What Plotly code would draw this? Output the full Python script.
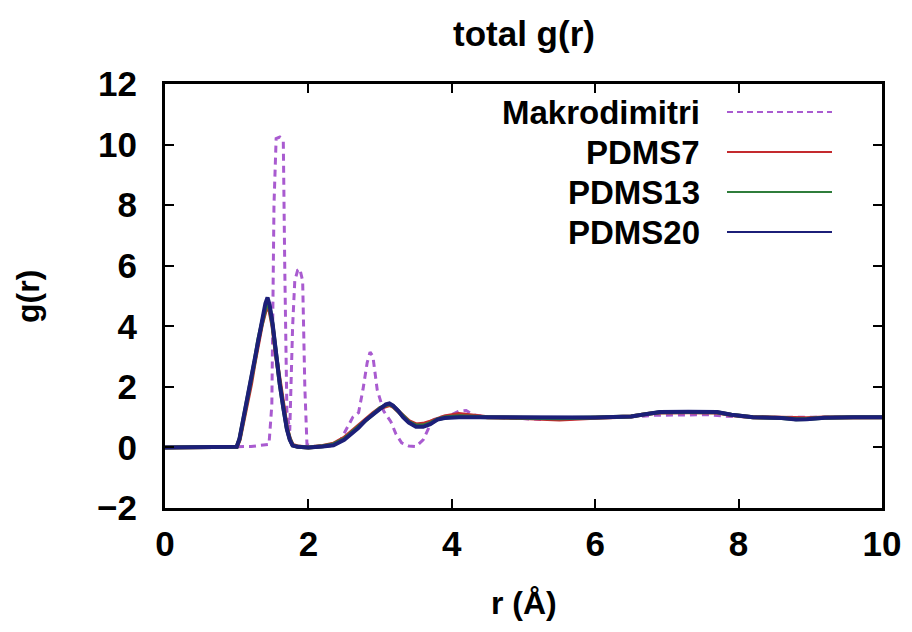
import plotly.graph_objects as go

# ---------------- data ----------------
mk_r = [0.0, 0.5, 1.0, 1.2, 1.45, 1.49, 1.52, 1.55, 1.6, 1.65, 1.67, 1.7, 1.74, 1.78, 1.81,
        1.85, 1.88, 1.92, 1.95, 1.98, 2.1, 2.3, 2.45, 2.55, 2.62, 2.7, 2.76, 2.82, 2.86, 2.9,
        2.96, 3.05, 3.15, 3.22, 3.3, 3.4, 3.5, 3.6, 3.68, 3.75, 3.85, 4.0, 4.1, 4.2, 4.3,
        4.5, 4.8, 5.0, 5.3, 5.6, 5.8, 6.2, 6.6, 6.8, 7.2, 7.6, 7.8, 8.2, 8.6, 9.0, 9.5, 10.0]
mk_g = [0.0, 0.01, 0.02, 0.03, 0.1, 1.4, 8.0, 10.2, 10.25, 10.1, 6.0, 1.2, 0.55, 4.0, 5.5,
        5.85, 5.9, 5.5, 2.0, 0.1, 0.03, 0.05, 0.25, 0.7, 1.0, 1.15, 1.9, 2.8, 3.15, 3.0,
        1.9, 1.2, 0.85, 0.45, 0.15, 0.05, 0.03, 0.25, 0.65, 0.92, 1.0, 1.08, 1.2, 1.22, 1.08,
        1.0, 0.97, 0.93, 0.92, 0.93, 0.97, 1.0, 1.02, 1.06, 1.08, 1.08, 1.03, 1.0, 0.99, 1.0, 1.0, 1.0]

pd_r = [0.0, 0.5, 1.0, 1.04, 1.08, 1.12, 1.16, 1.2, 1.25, 1.3, 1.35, 1.4, 1.43, 1.46, 1.5,
        1.55, 1.6, 1.65, 1.7, 1.74, 1.78, 1.85, 2.0, 2.2, 2.35, 2.5, 2.6, 2.7, 2.8, 2.9,
        3.0, 3.08, 3.13, 3.18, 3.25, 3.32, 3.4, 3.5, 3.6, 3.7, 3.8, 3.9, 4.1, 4.5, 5.0,
        5.5, 6.0, 6.5, 6.7, 6.9, 7.3, 7.7, 7.9, 8.2, 8.6, 8.8, 8.95, 9.2, 9.6, 10.0]
pdms7_g = [0.0, 0.0, 0.02, 0.25, 0.7, 1.2, 1.6, 2.1, 2.8, 3.5, 4.05, 4.5, 4.65, 4.5, 4.0,
           3.0, 2.15, 1.35, 0.65, 0.3, 0.08, 0.03, 0.0, 0.05, 0.12, 0.32, 0.52, 0.72, 0.95, 1.13,
           1.3, 1.38, 1.4, 1.35, 1.2, 1.02, 0.87, 0.76, 0.78, 0.85, 0.95, 1.02, 1.1, 1.0, 0.97,
           0.92, 0.98, 1.02, 1.1, 1.15, 1.16, 1.15, 1.07, 1.0, 0.98, 0.95, 0.96, 0.99, 1.0, 1.0]
pdms13_g = [0.0, 0.0, 0.02, 0.28, 0.75, 1.25, 1.65, 2.15, 2.85, 3.55, 4.1, 4.6, 4.8, 4.6, 4.05,
            3.0, 2.1, 1.32, 0.62, 0.28, 0.07, 0.02, 0.0, 0.04, 0.1, 0.28, 0.48, 0.68, 0.92, 1.12,
            1.3, 1.4, 1.43, 1.37, 1.21, 1.01, 0.84, 0.72, 0.72, 0.8, 0.93, 0.99, 1.03, 1.0, 0.98,
            0.96, 0.99, 1.02, 1.1, 1.16, 1.17, 1.16, 1.08, 1.0, 0.97, 0.93, 0.94, 0.98, 1.0, 1.0]
pdms20_g = [0.0, 0.0, 0.02, 0.3, 0.8, 1.3, 1.7, 2.2, 2.9, 3.6, 4.2, 4.75, 4.95, 4.7, 4.1,
            3.0, 2.1, 1.3, 0.6, 0.25, 0.06, 0.02, 0.0, 0.03, 0.07, 0.25, 0.45, 0.65, 0.9, 1.1,
            1.3, 1.42, 1.45, 1.38, 1.22, 1.0, 0.82, 0.68, 0.68, 0.77, 0.92, 0.97, 1.0, 1.0, 0.98,
            0.98, 0.99, 1.02, 1.1, 1.17, 1.18, 1.17, 1.08, 1.0, 0.97, 0.92, 0.93, 0.98, 1.0, 1.0]

series_names = ["Makrodimitri", "PDMS7", "PDMS13", "PDMS20"]
series_colors = ["#a95bd0", "#c42a2e", "#2f7d3b", "#1c1f78"]
x_ticks = [0, 2, 4, 6, 8, 10]
y_ticks = [-2, 0, 2, 4, 6, 8, 10, 12]

FONT = "Liberation Sans"

# figure sits inside the page body's 8px margin
W, H = 904, 624
L, R, T, B = 157, 30, 76, 124
PW, PH = W - L - R, H - T - B


def px_x(x):  # page x pixel -> paper coordinate
    return (x - 8 - L) / PW


def px_y(y):  # page y pixel -> paper coordinate
    return (H - B - (y - 8)) / PH


fig = go.Figure()
fig.add_trace(go.Scatter(x=mk_r, y=mk_g, mode="lines", name=series_names[0],
                         line=dict(color=series_colors[0], width=3, dash="7px,5px")))
for name, col, g in zip(series_names[1:], series_colors[1:], [pdms7_g, pdms13_g, pdms20_g]):
    fig.add_trace(go.Scatter(x=pd_r, y=g, mode="lines", name=name,
                             line=dict(color=col, width=4)))

# gnuplot-style key: text right-aligned, sample line to the right
ann = []
shapes = []
key_rows = [112, 152, 192, 232]
for i, (name, col) in enumerate(zip(series_names, series_colors)):
    ann.append(dict(text=name, x=px_x(702), y=px_y(key_rows[i]), xref="paper", yref="paper",
                    xanchor="right", yanchor="middle", showarrow=False,
                    font=dict(family=FONT, size=33, color="black", weight="bold")))
    shapes.append(dict(type="line", xref="paper", yref="paper", x0=px_x(727), x1=px_x(832),
                       y0=px_y(key_rows[i]), y1=px_y(key_rows[i]),
                       line=dict(color=col, width=2, dash="6px,4px" if i == 0 else "solid")))

ann.append(dict(text="total g(r)", x=0.5, y=px_y(33), xref="paper", yref="paper",
                xanchor="center", yanchor="middle", showarrow=False,
                font=dict(family=FONT, size=35, color="black", weight="bold")))
ann.append(dict(text="r (Å)", x=0.5, y=px_y(603), xref="paper", yref="paper",
                xanchor="center", yanchor="middle", showarrow=False,
                font=dict(family=FONT, size=32, color="black", weight="bold")))
ann.append(dict(text="g(r)", x=px_x(28), y=px_y(297), xref="paper", yref="paper",
                xanchor="center", yanchor="middle", showarrow=False, textangle=-90,
                font=dict(family=FONT, size=32, color="black", weight="bold")))

axis_common = dict(showgrid=False, zeroline=False, showline=True, linecolor="black",
                   linewidth=3, mirror="ticks", ticks="inside", ticklen=9, tickwidth=2,
                   tickcolor="black",
                   tickfont=dict(family=FONT, size=35, color="black", weight="bold"))

fig.update_layout(
    width=W, height=H,
    margin=dict(l=L, r=R, t=T, b=B),
    paper_bgcolor="white", plot_bgcolor="white",
    showlegend=False,
    annotations=ann, shapes=shapes,
    xaxis=dict(range=[0, 10], tickvals=x_ticks, ticktext=[str(v) for v in x_ticks],
               ticklabelstandoff=3, **axis_common),
    yaxis=dict(range=[-2, 12], tickvals=y_ticks,
               ticktext=[("−" + str(-v)) if v < 0 else str(v) for v in y_ticks],
               ticklabelstandoff=18, **axis_common),
)

fig.write_html("out.html")
